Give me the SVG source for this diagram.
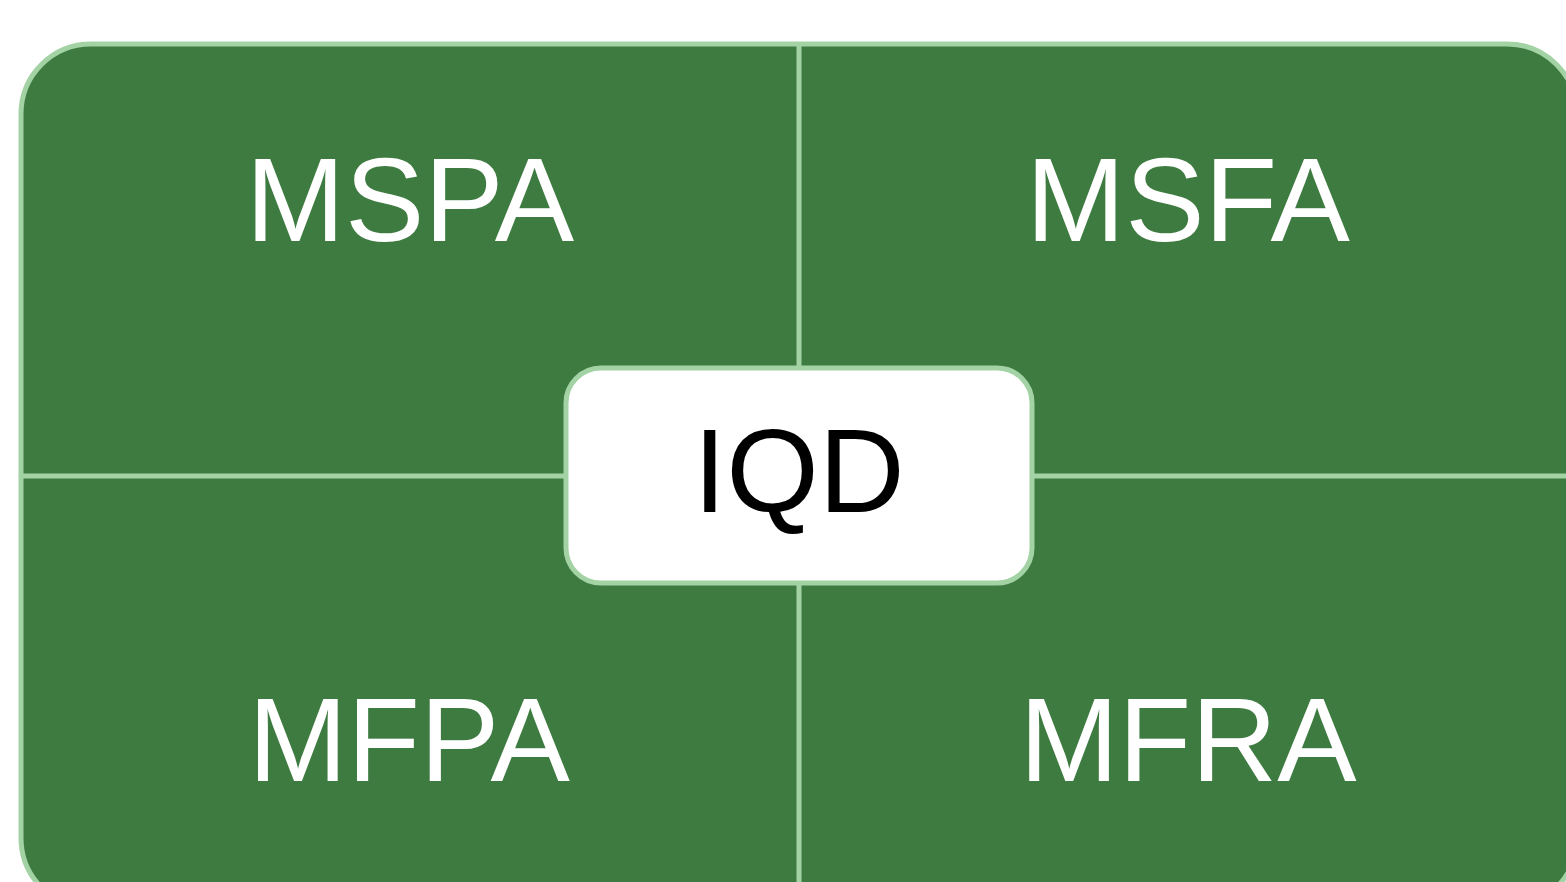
<svg xmlns="http://www.w3.org/2000/svg" width="1566" height="882" viewBox="0 0 1566 882">
  <style>
    .frame { fill: #3e7b40; stroke: #a3d3a4; stroke-width: 5; }
    .divider { stroke: #a3d3a4; stroke-width: 5; fill: none; }
    .core { fill: #ffffff; stroke: #a3d3a4; stroke-width: 5; }
    .label { font-family: "Liberation Sans", Arial, sans-serif; font-size: 119px; text-anchor: middle; fill: #ffffff; }
    .core-label { fill: #000000; }
  </style>
  <rect width="1566" height="882" fill="#ffffff"/>

  <!-- outer panel -->
  <g id="panel">
    <rect class="frame" x="21" y="44" width="1556" height="864" rx="70" ry="70"/>
  </g>

  <!-- quadrant dividers -->
  <g id="connectors">
    <line class="divider" x1="799" y1="44" x2="799" y2="908"/>
    <line class="divider" x1="21" y1="476" x2="1577" y2="476"/>
  </g>

  <g id="mspa">
    <text class="label" x="410" y="241">MSPA</text>
  </g>
  <g id="msfa">
    <text class="label" x="1188" y="241">MSFA</text>
  </g>
  <g id="mfpa">
    <text class="label" x="409" y="781">MFPA</text>
  </g>
  <g id="mfra">
    <text class="label" x="1188" y="781">MFRA</text>
  </g>

  <g id="iqd">
    <rect class="core" x="566" y="368" width="466" height="215" rx="35" ry="35"/>
    <text class="label core-label" x="799" y="512">IQD</text>
  </g>
</svg>
